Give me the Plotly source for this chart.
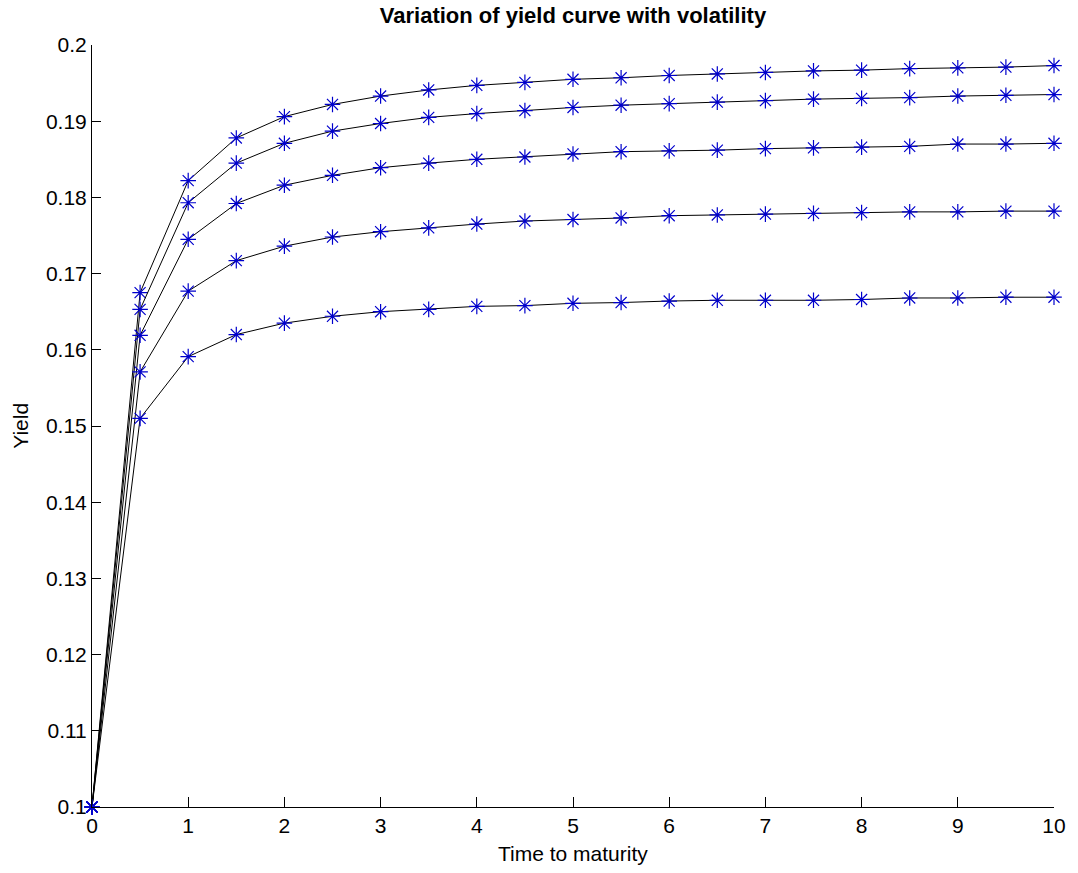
import plotly.graph_objects as go

maturity = [0, 0.5, 1, 1.5, 2, 2.5, 3, 3.5, 4, 4.5, 5, 5.5, 6, 6.5, 7, 7.5, 8, 8.5, 9, 9.5, 10]

yield_1 = [0.1, 0.1675, 0.1822, 0.1878, 0.1906, 0.1922, 0.1933, 0.1941, 0.1947, 0.1951, 0.1955,
           0.1957, 0.1960, 0.1962, 0.1964, 0.1966, 0.1967, 0.1969, 0.1970, 0.1971, 0.1973]
yield_2 = [0.1, 0.1653, 0.1793, 0.1845, 0.1871, 0.1887, 0.1897, 0.1905, 0.1910, 0.1914, 0.1918,
           0.1921, 0.1923, 0.1925, 0.1927, 0.1929, 0.1930, 0.1931, 0.1933, 0.1934, 0.1935]
yield_3 = [0.1, 0.1619, 0.1745, 0.1792, 0.1816, 0.1829, 0.1839, 0.1845, 0.1850, 0.1853, 0.1857,
           0.1860, 0.1861, 0.1862, 0.1864, 0.1865, 0.1866, 0.1867, 0.1870, 0.1870, 0.1871]
yield_4 = [0.1, 0.1571, 0.1677, 0.1717, 0.1736, 0.1748, 0.1755, 0.1760, 0.1765, 0.1769, 0.1771,
           0.1773, 0.1776, 0.1777, 0.1778, 0.1779, 0.1780, 0.1781, 0.1781, 0.1782, 0.1782]
yield_5 = [0.1, 0.1510, 0.1591, 0.1620, 0.1635, 0.1644, 0.1650, 0.1653, 0.1657, 0.1658, 0.1661,
           0.1662, 0.1664, 0.1665, 0.1665, 0.1665, 0.1666, 0.1668, 0.1668, 0.1669, 0.1669]

x_ticks = [0, 1, 2, 3, 4, 5, 6, 7, 8, 9, 10]
y_ticks = [0.1, 0.11, 0.12, 0.13, 0.14, 0.15, 0.16, 0.17, 0.18, 0.19, 0.2]
y_tick_labels = ["0.1", "0.11", "0.12", "0.13", "0.14", "0.15", "0.16", "0.17", "0.18", "0.19", "0.2"]

FONT = "Liberation Sans, Arial, sans-serif"

fig = go.Figure()
for ys in [yield_1, yield_2, yield_3, yield_4, yield_5]:
    fig.add_trace(go.Scatter(
        x=maturity, y=ys, mode="lines+markers", cliponaxis=False,
        line=dict(color="black", width=1),
        marker=dict(symbol="asterisk-open", size=13, color="#0000CC",
                    line=dict(color="#0000CC", width=1.2)),
        showlegend=False, hoverinfo="x+y",
    ))

fig.update_layout(
    width=1078, height=873,
    margin=dict(l=92, r=19, t=45, b=66),
    paper_bgcolor="white", plot_bgcolor="white",
    font=dict(family=FONT, size=21, color="black"),
    title=dict(text="<b>Variation of yield curve with volatility</b>",
               x=0.5, xref="paper", y=1 - 15 / 873, yref="container",
               xanchor="center", yanchor="middle",
               font=dict(family=FONT, size=22, color="black")),
    annotations=[
        dict(text="Time to maturity", xref="paper", yref="paper", x=0.5, y=(806.7 - 853) / 762,
             xanchor="center", yanchor="middle", showarrow=False,
             font=dict(family=FONT, size=21, color="black")),
        dict(text="Yield", xref="paper", yref="paper", x=(20 - 92.5) / 966.5, y=0.5,
             xanchor="center", yanchor="middle", textangle=-90, showarrow=False,
             font=dict(family=FONT, size=21, color="black")),
    ],
)
fig.update_xaxes(range=[0, 10], tickvals=x_ticks, ticks="inside", ticklen=10, tickcolor="black",
                 showline=True, linecolor="black", linewidth=1, mirror=False,
                 showgrid=False, zeroline=False, tickfont=dict(size=21))
fig.update_yaxes(range=[0.1, 0.2], tickvals=y_ticks, ticktext=y_tick_labels, ticks="inside",
                 ticklen=9, tickcolor="black",
                 showline=True, linecolor="black", linewidth=1, mirror=False,
                 showgrid=False, zeroline=False, tickfont=dict(size=21))

fig.write_html("out.html")
